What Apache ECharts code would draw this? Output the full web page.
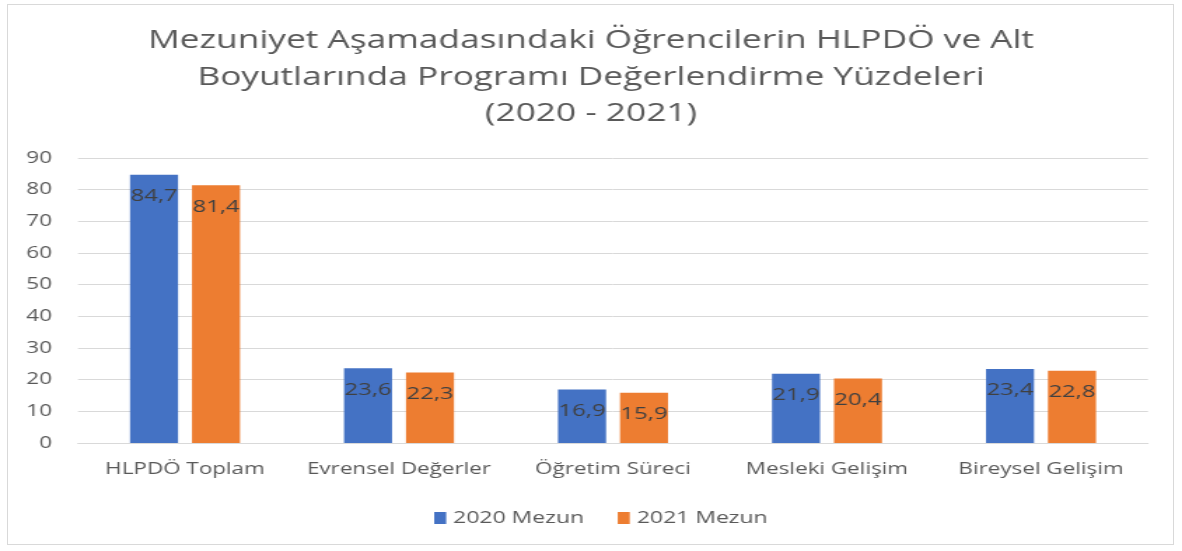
<!DOCTYPE html>
<html><head><meta charset="utf-8">
<script src="https://cdn.jsdelivr.net/npm/echarts@6/dist/echarts.min.js"></script>
<style>
html,body{margin:0;padding:0;background:#fff;overflow:hidden;}
#frame{position:absolute;left:7px;top:4px;width:1167px;height:541px;border:1px solid #d9d9d9;box-sizing:border-box;}
#c{position:absolute;left:0;top:0;width:844px;height:551px;transform-origin:0 0;transform:scaleX(1.4005);}
</style></head>
<body><div id="frame"></div><div id="c"></div>
<script>
const categories = ['HLPDÖ Toplam','Evrensel Değerler','Öğretim Süreci','Mesleki Gelişim','Bireysel Gelişim'];
const series2020 = [84.7, 23.6, 16.9, 21.9, 23.4];
const series2021 = [81.4, 22.3, 15.9, 20.4, 22.8];
const seriesNames = ['2020 Mezun','2021 Mezun'];
const titleText = 'Mezuniyet Aşamadasındaki Öğrencilerin HLPDÖ ve Alt\nBoyutlarında Programı Değerlendirme Yüzdeleri\n(2020 - 2021)';

const font = 'Open Sans, Liberation Sans, sans-serif';
const chart = echarts.init(document.getElementById('c'), null, {renderer:'canvas'});
const label = {
  show:true, position:'insideTop', distance:13, color:'#404040', fontSize:17, fontFamily:font,
  formatter: p => String(p.value).replace('.', ',')
};
chart.setOption({
  animation:false,
  title:{text:titleText, left:'center', top:18,
    textStyle:{fontSize:25.2, fontWeight:'normal', color:'#595959', fontFamily:font, lineHeight:36.5}},
  legend:{bottom:20, left:305, itemWidth:8.6, itemHeight:12, itemGap:24, icon:'rect',
    textStyle:{fontSize:16.4, color:'#595959', fontFamily:font}},
  grid:{left:55.7, right:24.3, top:158, bottom:108, containLabel:false},
  xAxis:{type:'category', data:categories,
    axisLine:{lineStyle:{color:'#d9d9d9', width:1}}, axisTick:{show:false},
    axisLabel:{interval:0, fontSize:16, color:'#595959', fontFamily:font, margin:18}},
  yAxis:{type:'value', min:0, max:90, interval:10,
    axisLine:{show:false}, axisTick:{show:false},
    splitLine:{lineStyle:{color:'#d9d9d9', width:1}},
    axisLabel:{fontSize:16, color:'#595959', fontFamily:font, margin:18.6}},
  series:[
    {name:seriesNames[0], type:'bar', data:series2020, barWidth:34.3, barGap:'29%',
      itemStyle:{color:'#4472c4'}, label:label},
    {name:seriesNames[1], type:'bar', data:series2021, barWidth:34.3,
      itemStyle:{color:'#ed7d31'}, label:label}
  ]
});
</script></body></html>
